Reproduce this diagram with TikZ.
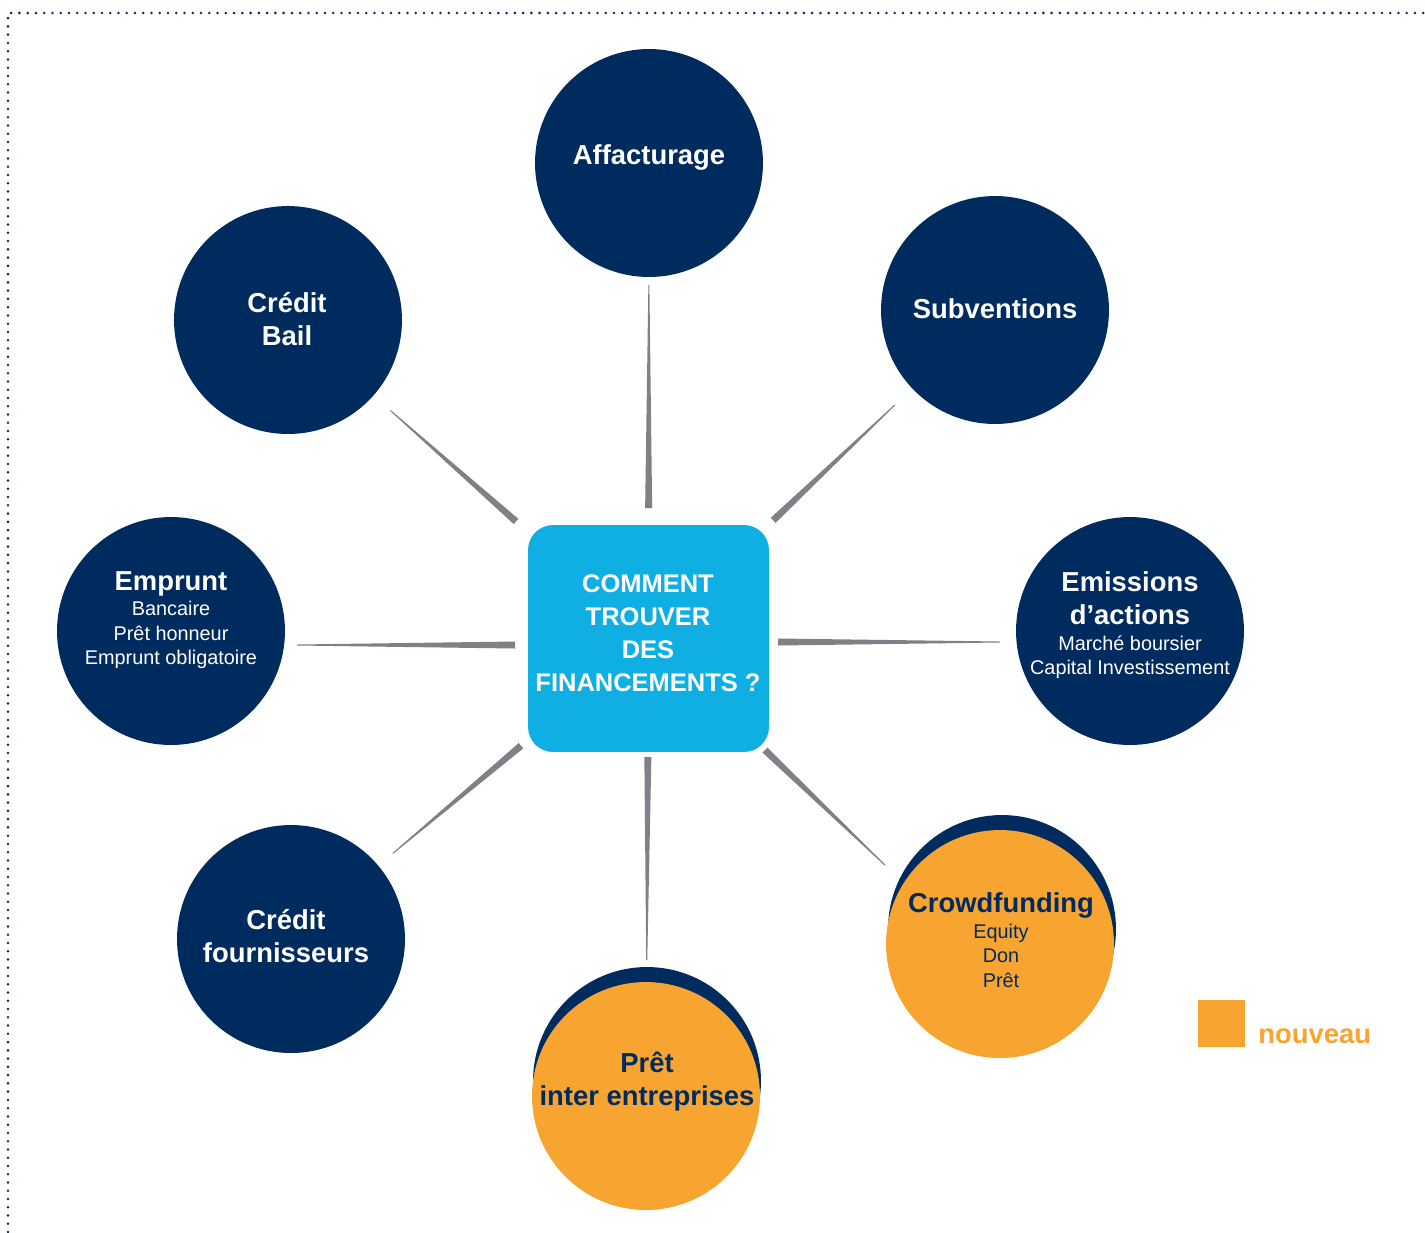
\documentclass[tikz,border=0pt]{standalone}
\usepackage{fontspec}
\setmainfont{Liberation Sans}
\usetikzlibrary{calc}
\usetikzlibrary{positioning}

\definecolor{navy}{RGB}{0,43,94}
\definecolor{skyblue}{RGB}{15,174,227}
\definecolor{amber}{RGB}{247,164,48}
\definecolor{spokegray}{RGB}{128,128,134}

\newcommand{\ttlfnt}{\bfseries\fontsize{15.6}{18.7}\selectfont}
\newcommand{\subfnt}{\fontsize{11.3}{13.9}\selectfont}

\begin{document}
\begin{tikzpicture}[x=0.02cm,y=-0.02cm]
\tikzset{bubble/.style={circle,fill=navy,minimum size=4.56cm,inner sep=0pt},
    newbubble/.style={circle,fill=amber,minimum size=4.56cm,inner sep=0pt},
    ttl/.style={align=center,text=white,font=\ttlfnt},
    sub/.style={align=center,text=white,font=\subfnt}
}
% tapered spoke: #1 from start centre, #2 from target centre
\tikzset{spoke/.style 2 args={to path={
        let \p1=($(\tikztostart)!#1*0.02cm!(\tikztotarget)$),
            \p2=($(\tikztotarget)!#2*0.02cm!(\tikztostart)$) in
        ($(\p1)!0.07cm!90:(\p2)$) -- ($(\p1)!0.07cm!-90:(\p2)$)
        -- ($(\p2)!0.01cm!90:(\p1)$) -- ($(\p2)!0.01cm!-90:(\p1)$) -- cycle}
    }
}

\useasboundingbox (0,0) rectangle (1425,1232);
\draw[navy,line width=1.6pt,line cap=round,dash pattern=on 0pt off 4.7pt] (8,1232) -- (8,13) -- (1425,13);

\node[fill=skyblue,rounded corners=0.5cm,minimum width=4.82cm,minimum height=4.54cm] (box) at (648.5,638.5) {};

\node[bubble] (aff) at (649,163) {};
\node[bubble] (subv) at (995,310) {};
\node[bubble] (bail) at (288,320) {};
\node[bubble] (empr) at (171,631) {};
\node[bubble] (emis) at (1130,631) {};
\node[bubble] (four) at (291,939) {};
\node[bubble] (crowdbk) at (1002,929) {};
\node[newbubble] (crowd) at (1000,944) {};
\node[bubble] (pretbk) at (647,1081) {};
\node[newbubble] (pret) at (646,1096) {};

\fill[spokegray] (box) to[spoke={130.5}{122}] (aff);
\fill[spokegray] (box) to[spoke={176.8}{136.7}] (bail);
\fill[spokegray] (box) to[spoke={171.8}{138}] (subv);
\fill[spokegray] ([yshift=-0.13cm]box.center) to[spoke={133.5}{126}] ([yshift=-0.28cm]empr.center);
\fill[spokegray] ([yshift=-0.07cm]box.center) to[spoke={129.5}{130}] ([yshift=-0.22cm]emis.center);
\fill[spokegray] (box) to[spoke={166.6}{133}] (four);
\fill[spokegray] (box) to[spoke={118.5}{136}] (pret);
\fill[spokegray] (box) to[spoke={161.3}{137}] ([xshift=-0.32cm,yshift=-0.32cm]crowd.center);

\node[align=center,text=white,font=\bfseries\fontsize{14.5}{18.7}\selectfont] (boxT) at (648,633) {COMMENT\\TROUVER\\DES\\FINANCEMENTS ?};

\node[ttl] (affT) at (649,157) {Affacturage};
\node[ttl] (subvT) at (995,309) {Subventions};
\node[ttl] (bailT) at (287,319) {Crédit\\Bail};
\node[sub] (emprT) at (171,620) {{\ttlfnt Emprunt}\\[0.8pt]Bancaire\\Prêt honneur\\Emprunt obligatoire};
\node[sub] (emisT) at (1130,625) {{\ttlfnt Emissions}\\[4.8pt]{\ttlfnt d’actions}\\[0.8pt]Marché boursier\\Capital Investissement};
\node[ttl] (fourT) at (286,936) {Crédit\\fournisseurs};
\node[sub,text=navy] (crowdT) at (1001,940) {{\ttlfnt Crowdfunding}\\[1pt]Equity\\Don\\Prêt};
\node[ttl,text=navy] (pretT) at (647,1082) {Prêt\\inter entreprises};

\node[fill=amber,minimum size=0.94cm,inner sep=0pt] (legbox) at (1221.5,1023.5) {};
\node[anchor=base west,text=amber,font=\ttlfnt,inner sep=0pt] (legtxt) at (1258,1043) {nouveau};
\end{tikzpicture}
\end{document}
